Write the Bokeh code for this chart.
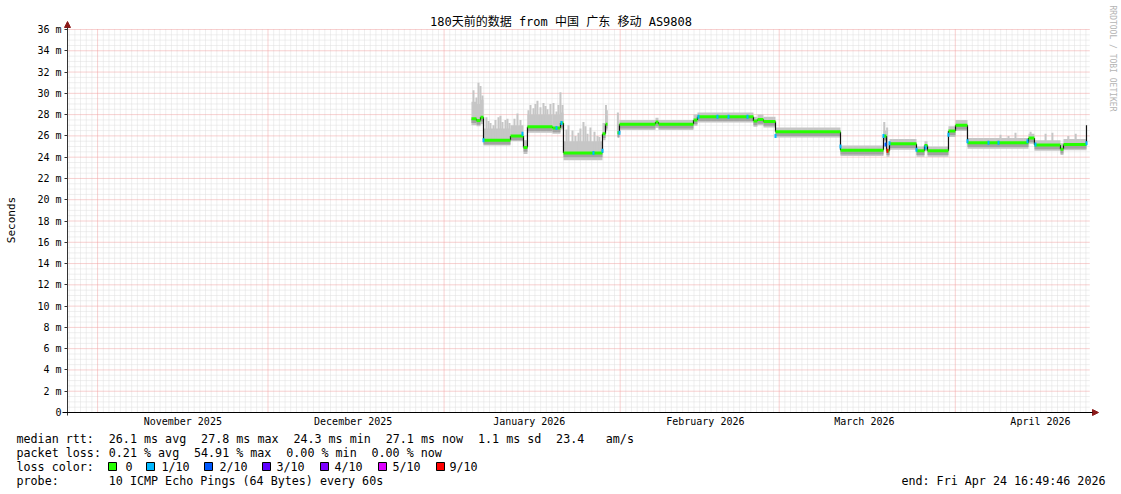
import math
import numpy as np
from bokeh.plotting import figure
from bokeh.models import Range1d, FixedTicker, Arrow, NormalHead
from bokeh.core.properties import value
from bokeh.embed import file_html
from bokeh.resources import INLINE

FONT = "DejaVu Sans Mono"
nan = float("nan")

# ---------------- axes (x = days since 2026-01-01 00:00) ----------------
x_start = -66.2988          # Sun Oct 26 16:49:46 2025
x_end = 113.7012            # Fri Apr 24 16:49:46 2026
month_starts = [-61, -31, 0, 31, 59, 90]
month_label_days = [-46, -16, 15, 46, 74, 105]
month_labels = ["November 2025", "December 2025", "January 2026",
                "February 2026", "March 2026", "April 2026"]

y_major = [0, 2, 4, 6, 8, 10, 12, 14, 16, 18, 20, 22, 24, 26, 28, 30, 32, 34, 36]
y_labels = ["0", "2 m", "4 m", "6 m", "8 m", "10 m", "12 m", "14 m", "16 m", "18 m",
            "20 m", "22 m", "24 m", "26 m", "28 m", "30 m", "32 m", "34 m", "36 m"]

title_text = "180天前的数据 from 中国 广东 移动 AS9808"
y_title = "Seconds"
watermark = "RRDTOOL / TOBI OETIKER"

# ---------------- data (median rtt in ms, step segments) ----------------
seg_start = [4.82, 5.70, 6.41, 6.94, 11.69, 13.98, 14.68, 19.08, 20.49, 21.02,
             27.89, 28.42, 28.77, 30.53, 30.88, 37.22, 37.75, 43.91, 44.61, 54.47,
             55.18, 56.23, 58.35, 69.79, 77.36, 77.89, 78.42, 83.17, 84.58, 85.11,
             88.80, 90.04, 92.15, 102.89, 103.94, 108.52, 109.05, 113.10]
seg_median = [27.6, 27.45, 27.75, 25.6, 26.0, 24.9, 26.85, 26.75, 27.2, 24.4,
              26.2, 27.1, nan, 26.3, 27.1, 27.3, 27.1, 27.5, 27.8, 27.4,
              27.55, 27.35, 26.4, 24.65, 26.0, 24.6, 25.25, 24.6, 25.1, 24.6,
              26.45, 27.0, 25.35, 25.8, 25.15, 24.75, 25.2, 27.0]
smoke_lo = [27.0, 26.9, 27.1, 25.1, 25.5, 24.3, 26.3, 26.2, 26.6, 23.7,
            25.6, 26.5, nan, 25.8, 26.55, 26.75, 26.55, 26.95, 27.25, 26.85,
            27.0, 26.8, 25.85, 24.1, 25.45, 24.05, 24.7, 24.05, 24.55, 24.05,
            25.9, 26.45, 24.8, 25.25, 24.6, 24.2, 24.65, 26.45]
smoke_hi = [29.2, 29.0, 29.4, 26.7, 27.0, 25.6, 28.0, 28.0, 28.2, 25.5,
            27.2, 27.9, nan, 27.0, 27.5, 27.7, 27.5, 28.0, 28.2, 27.8,
            28.0, 27.8, 26.8, 25.1, 26.5, 25.1, 25.7, 25.0, 25.5, 25.0,
            26.9, 27.5, 25.8, 26.2, 25.6, 25.3, 25.7, 27.4]
core_lo = [27.2, 27.05, 27.35, 25.2, 25.6, 24.5, 26.45, 26.35, 26.8, 24.0,
           25.8, 26.7, nan, 25.9, 26.7, 26.9, 26.7, 27.1, 27.4, 27.0,
           27.15, 26.95, 26.0, 24.25, 25.6, 24.2, 24.85, 24.2, 24.7, 24.2,
           26.05, 26.6, 24.95, 25.4, 24.75, 24.35, 24.8, 26.6]

spike_day = [5.18, 5.70, 6.06, 6.41, 6.76, 7.46, 7.82, 8.17, 8.70, 9.05,
             9.58, 9.93, 10.28, 10.81, 11.16, 11.51, 12.39, 12.92, 13.45, 14.86,
             15.21, 15.74, 16.09, 16.44, 16.97, 17.50, 17.85, 18.20, 18.73, 19.26,
             19.79, 20.14, 20.49, 20.85, 21.55, 21.90, 22.61, 23.13, 23.66, 24.01,
             24.54, 24.89, 25.25, 25.77, 26.48, 27.01, 27.36, 28.50, 28.65, 30.60,
             77.50, 78.00, 97.96, 99.37, 100.60, 103.26, 105.90, 107.10, 109.90, 111.20]
spike_top = [30.3, 29.6, 31.0, 30.7, 29.8, 27.75, 27.4, 27.2, 27.0, 27.5,
             27.75, 27.9, 27.3, 27.5, 27.6, 27.2, 27.6, 28.1, 27.5, 28.4,
             28.9, 28.6, 29.0, 29.3, 28.7, 29.1, 28.8, 28.5, 29.0, 29.1,
             28.3, 28.9, 30.1, 28.9, 26.6, 27.0, 26.5, 26.0, 26.3, 26.7,
             27.3, 26.9, 26.2, 26.8, 26.4, 26.0, 25.9, 28.9, 28.4, 28.2,
             27.3, 26.8, 26.1, 26.0, 26.3, 26.4, 26.2, 26.3, 26.0, 26.2]

loss_day = [6.94, 13.80, 19.79, 20.67, 26.30, 27.89, 30.88, 44.79, 48.13, 50.07,
            53.42, 58.35, 69.79, 77.36, 77.71, 78.06, 78.42, 83.17, 84.75, 88.80,
            92.15, 95.85, 97.61, 102.71, 104.12, 113.10]
loss_val = [25.6, 26.2, 26.75, 27.2, 24.4, 24.6, 26.3, 27.8, 27.8, 27.8,
            27.8, 26.0, 25.0, 26.0, 25.2, 24.6, 25.3, 24.7, 24.9, 26.1,
            25.5, 25.35, 25.35, 25.5, 25.2, 25.3]
loss_level = ["1/10", "1/10", "1/10", "1/10", "1/10", "1/10", "1/10", "1/10", "1/10", "1/10",
              "1/10", "1/10", "1/10", "1/10", "2/10", "9/10", "1/10", "1/10", "1/10", "1/10",
              "1/10", "1/10", "1/10", "1/10", "1/10", "1/10"]

loss_names = ["0", "1/10", "2/10", "3/10", "4/10", "5/10", "9/10"]
loss_colors = ["#26ff00", "#00b8ff", "#0059ff", "#5e00ff", "#7e00ff", "#dd00ff", "#ff0000"]

# legend text (column index in characters, text)
stat_rows = [
    [(0, "median rtt:"), (13, "26.1 ms avg"), (26, "27.8 ms max"), (39, "24.3 ms min"),
     (52, "27.1 ms now"), (65, "1.1 ms sd"), (76, "23.4"), (83, "am/s")],
    [(0, "packet loss:"), (13, "0.21 % avg"), (25, "54.91 % max"), (38, "0.00 % min"),
     (50, "0.00 % now")],
    [(0, "loss color:")],
    [(0, "probe:"), (13, "10 ICMP Echo Pings (64 Bytes) every 60s")],
]
end_text = "end: Fri Apr 24 16:49:46 2026"

# ---------------- layout (page pixels; the frame covers the whole canvas) ----------------
W, H = 1121, 494
GRAPH_L, GRAPH_B = 67, 412
PX_DAY = 5.68
PX_MS = 383 / 36.0


def dx(px):
    return x_start + (px - GRAPH_L) / PX_DAY


def dy(py):
    return (GRAPH_B - py) / PX_MS


GRID_MINOR = "#dedede"
GRID_MAJOR = "#f0a0a0"
SMOKE = "#c6c6c6"
SMOKE_CORE = "#a2a2a2"
AXIS = "#333333"
ARROW_C = "#8b1a1a"
color_of = dict(zip(loss_names, loss_colors))

p = figure(width=W, height=H, x_range=Range1d(dx(0), dx(W)), y_range=Range1d(dy(H), dy(0)),
           output_backend="svg", toolbar_location=None, title=None, min_border=0)
p.outline_line_color = None
p.grid.visible = False
p.background_fill_color = "white"
p.border_fill_color = "white"

# grid
day_lines = [d for d in range(-66, 114) if d not in month_starts]
minor_h = [v / 2 for v in range(1, 72) if v % 4 != 0]
p.segment(x0=day_lines, y0=0, x1=day_lines, y1=36, line_color=GRID_MINOR,
          line_width=1, line_dash="1 1")
p.segment(x0=x_start, y0=minor_h, x1=x_end, y1=minor_h, line_color=GRID_MINOR,
          line_width=1, line_dash="1 1")
p.segment(x0=month_starts, y0=0, x1=month_starts, y1=36, line_color=GRID_MAJOR,
          line_width=1, line_dash="1 1")
p.segment(x0=x_start, y0=y_major[1:], x1=x_end, y1=y_major[1:], line_color=GRID_MAJOR,
          line_width=1, line_dash="1 1")

# smoke
seg_end = seg_start[1:] + [x_end - 0.6]
p.quad(left=seg_start, right=seg_end, bottom=smoke_lo, top=smoke_hi,
       fill_color=SMOKE, line_color=None)
sd = np.array(seg_start)
base = [seg_median[max(0, int(np.searchsorted(sd, d, side="right")) - 1)] for d in spike_day]
p.segment(x0=spike_day, y0=base, x1=spike_day, y1=spike_top, line_color=SMOKE, line_width=2)
p.quad(left=seg_start, right=seg_end, bottom=core_lo, top=seg_median,
       fill_color=SMOKE_CORE, line_color=None)

# median: black transitions + green (loss 0) segments
vx, vy0, vy1 = [], [], []
for i in range(1, len(seg_start)):
    a, b = seg_median[i - 1], seg_median[i]
    if not (math.isnan(a) or math.isnan(b)):
        vx.append(seg_start[i]); vy0.append(a); vy1.append(b)
p.segment(x0=vx, y0=vy0, x1=vx, y1=vy1, line_color="#111111", line_width=1.2)
p.segment(x0=seg_start, y0=seg_median, x1=seg_end, y1=seg_median,
          line_color=color_of["0"], line_width=3)
p.rect(x=loss_day, y=loss_val, width=2, height=4, width_units="screen",
       height_units="screen", fill_color=[color_of[l] for l in loss_level], line_color=None)

# axes, drawn at fixed data locations inside the canvas
p.xaxis.fixed_location = 0
p.yaxis.fixed_location = x_start
p.yaxis.ticker = FixedTicker(ticks=y_major, minor_ticks=[])
p.yaxis.major_label_overrides = dict(zip(y_major, y_labels))
p.yaxis.major_tick_out = 3
p.yaxis.major_tick_in = 0
p.yaxis.major_label_standoff = 3
p.xaxis.ticker = FixedTicker(ticks=month_label_days, minor_ticks=[])
p.xaxis.major_label_overrides = dict(zip(month_label_days, month_labels))
p.xaxis.major_tick_out = 0
p.xaxis.major_tick_in = 0
p.xaxis.major_label_standoff = 3
for ax in (p.xaxis, p.yaxis):
    ax.major_label_text_font = FONT
    ax.major_label_text_font_size = "10px"
    ax.major_label_text_color = "black"
    ax.axis_line_color = None
    ax.minor_tick_line_color = None
p.yaxis.major_tick_line_color = AXIS
p.xaxis.major_tick_line_color = None

p.add_layout(Arrow(end=NormalHead(size=6, fill_color=ARROW_C, line_color=ARROW_C),
                   x_start=x_start, y_start=dy(415), x_end=x_start, y_end=dy(21),
                   line_color=AXIS, line_width=1))
p.add_layout(Arrow(end=NormalHead(size=6, fill_color=ARROW_C, line_color=ARROW_C),
                   x_start=dx(62), y_start=0, x_end=dx(1098), y_end=0,
                   line_color="black", line_width=1))

# title, axis title and watermark
p.text(x=[dx(560.5)], y=[dy(21.5)], text=[title_text],
       text_font=value(FONT + ", Noto Sans CJK SC"), text_font_size=value("12px"),
       text_align="center", text_baseline="middle", text_color="black")
p.text(x=[dx(10.5)], y=[dy(219.5)], text=[y_title], angle=math.pi / 2,
       text_font=value(FONT), text_font_size=value("11px"),
       text_align="center", text_baseline="middle", text_color="black")
p.text(x=[dx(1111.5)], y=[dy(5)], text=[watermark], angle=-math.pi / 2,
       text_font=value(FONT), text_font_size=value("8px"), text_align="left",
       text_baseline="middle", text_color="#b4b4b4")

# ---------------- legend below the chart ----------------
ROW_Y = [438, 452, 466, 480]
CW = 7.1
LEG_FS = value("11.7px")
tx, ty, tt = [], [], []
for r, row in enumerate(stat_rows):
    for col, s in row:
        tx.append(dx(16 + col * CW)); ty.append(dy(ROW_Y[r])); tt.append(s)
sq_x = [112, 150, 208, 266, 324, 382, 440]
lab_x = [125, 161, 219, 276, 334, 392, 449]
tx += [dx(v) for v in lab_x]; ty += [dy(ROW_Y[2])] * len(lab_x); tt += loss_names
p.text(x=tx, y=ty, text=tt, text_font=value(FONT), text_font_size=LEG_FS,
       text_baseline="middle", text_align="left", text_color="black")
p.text(x=[dx(1105)], y=[dy(ROW_Y[3])], text=[end_text], text_font=value(FONT),
       text_font_size=LEG_FS, text_baseline="middle", text_align="right", text_color="black")
p.rect(x=[dx(v) for v in sq_x], y=[dy(ROW_Y[2])] * len(sq_x), width=8, height=8,
       width_units="screen", height_units="screen", fill_color=loss_colors,
       line_color="black", line_width=1)

open("out.html", "w").write(file_html(p, INLINE))
